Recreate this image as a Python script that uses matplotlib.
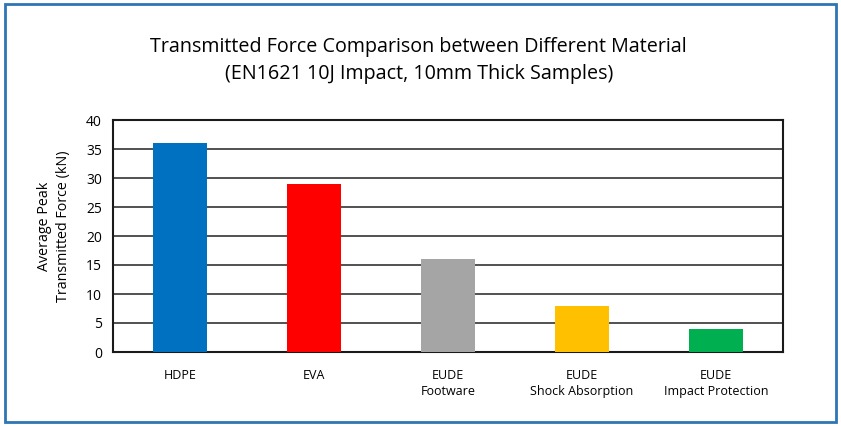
import matplotlib.pyplot as plt
from matplotlib.patches import Rectangle

# Chart data
materials = ['HDPE', 'EVA', 'EUDE\nFootware', 'EUDE\nShock Absorption', 'EUDE\nImpact Protection']
peak_force = [36, 29, 16, 8, 4]
bar_colors = ['#0070C0', '#FF0000', '#A5A5A5', '#FFC000', '#00B050']

plt.rcParams['font.family'] = ['Open Sans', 'DejaVu Sans']

fig = plt.figure(figsize=(8.41, 4.26), dpi=100)
ax = fig.add_axes([113 / 841, 1 - 352 / 426, 670 / 841, 232 / 426])

x = range(len(materials))
ax.bar(x, peak_force, width=0.4, color=bar_colors, zorder=3)

ax.set_xlim(-0.5, len(materials) - 0.5)
ax.set_ylim(0, 40)
ax.set_yticks(range(0, 41, 5))
ax.set_xticks(list(x))
ax.set_xticklabels(materials, fontsize=9, linespacing=1.35)
ax.tick_params(axis='y', labelsize=10, length=0, pad=8)
ax.tick_params(axis='x', length=0, pad=12)
ax.grid(axis='y', color='#333333', linewidth=1.2, zorder=0)
for s in ax.spines.values():
    s.set_linewidth(1.5)
    s.set_color('#1a1a1a')

ax.set_ylabel('Average Peak\nTransmitted Force (kN)', fontsize=10.3, linespacing=1.3, labelpad=8)
ax.yaxis.set_label_coords(-0.063, 0.54)

fig.text(0.498, 1 - 47 / 426, 'Transmitted Force Comparison between Different Material',
         ha='center', va='center', fontsize=14.2)
fig.text(0.498, 1 - 74 / 426, '(EN1621 10J Impact, 10mm Thick Samples)',
         ha='center', va='center', fontsize=14.2)

# blue frame around the figure
fig.patches.append(Rectangle((5 / 841, 4 / 426), 831 / 841, 418 / 426, transform=fig.transFigure,
                             fill=False, edgecolor='#2E75B6', linewidth=2))

fig.savefig('out.png', dpi=100)
